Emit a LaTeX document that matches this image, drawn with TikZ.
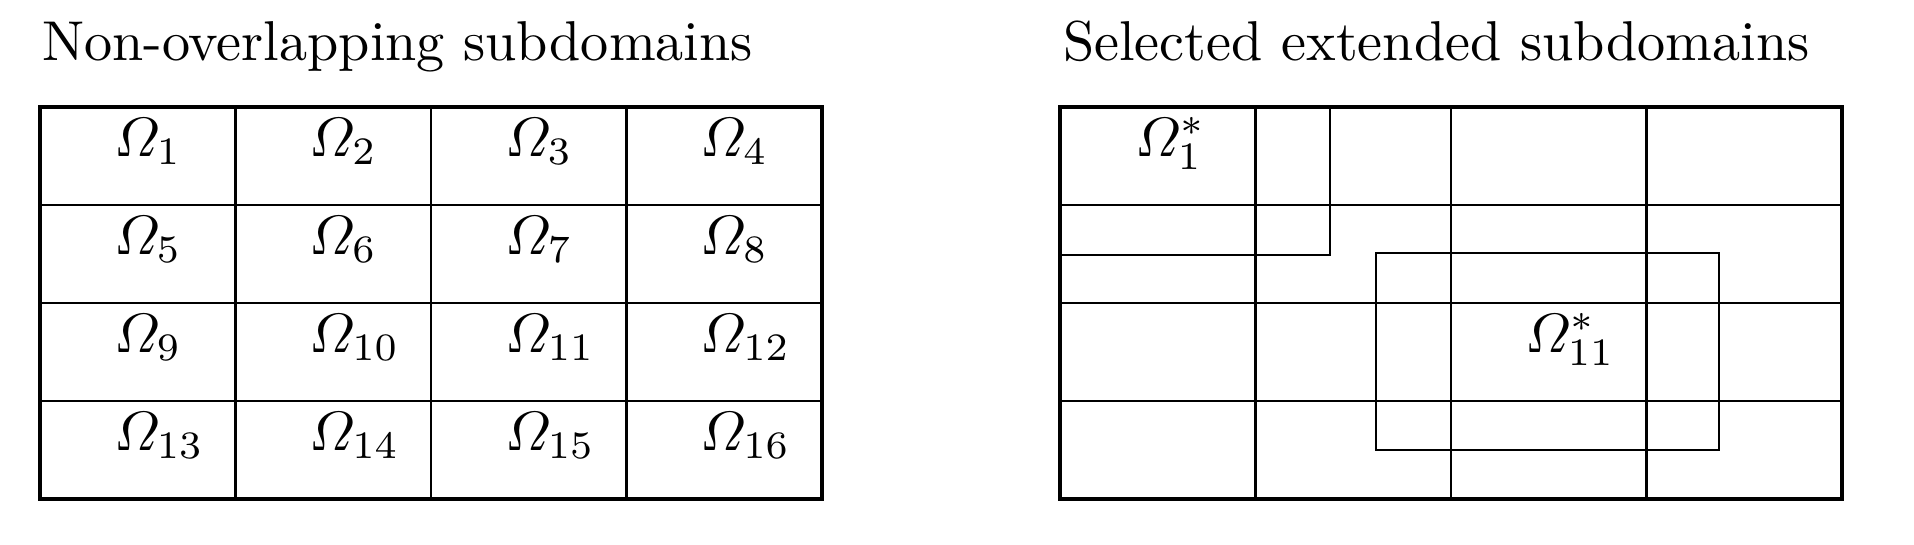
\documentclass[tikz,border=0pt]{standalone}
\usepackage{amsmath}
\begin{document}
\begin{tikzpicture}[x=0.18018pt,y=-0.18018pt,
  gridline/.style={line width=0.5pt},
  outerline/.style={line width=0.55pt},
  lbl/.style={anchor=base west,inner sep=0pt},
  ttl/.style={anchor=base west,inner sep=0pt,font=\fontsize{10.12}{12}\selectfont}]
\useasboundingbox (0,0) rectangle (1914,544);
% titles
\node[ttl] (t1) at (41,60) {Non-overlapping subdomains};
\node[ttl] (t2) at (1062,60) {Selected extended subdomains};
% left grid
\foreach \i in {1,2,3} {
  \draw[gridline] ({40+195.5*\i},107) -- ({40+195.5*\i},499);
  \draw[gridline] (40,{107+98*\i}) -- (822,{107+98*\i});
}
\draw[outerline] (40,107) rectangle (822,499);
\foreach \r in {0,1,2,3} {
  \foreach \c in {0,1,2,3} {
    \pgfmathtruncatemacro{\k}{4*\r+\c+1}
    \node[lbl] (o\k) at ({40+195.5*\c+73},{107+98*\r+49}) {$\varOmega_{\k}$};
  }
}
% right grid
\foreach \i in {1,2,3} {
  \draw[gridline] ({1060+195.5*\i},107) -- ({1060+195.5*\i},499);
  \draw[gridline] (1060,{107+98*\i}) -- (1842,{107+98*\i});
}
\draw[outerline] (1060,107) rectangle (1842,499);
\draw[gridline] (1060,107) rectangle (1330,255);
\draw[gridline] (1376,253) rectangle (1719,450);
\node[lbl] (e1) at (1134,156) {$\varOmega^*_1$};
\node[lbl] (e11) at (1450+74,352) {$\varOmega^*_{11}$};
\end{tikzpicture}
\end{document}
